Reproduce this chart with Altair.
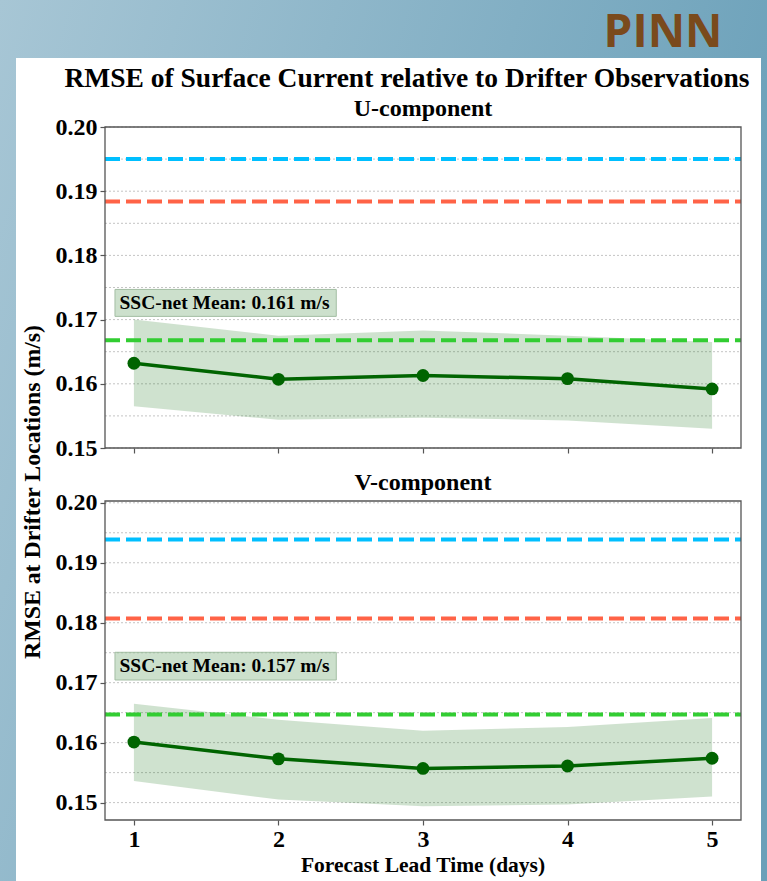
import altair as alt
import pandas as pd

# Forecast lead times (days)
lead_days = [1, 2, 3, 4, 5]

# U-component RMSE (m/s): mean and spread bounds
u_mean = [0.1632, 0.1607, 0.1613, 0.1608, 0.1592]
u_low = [0.1565, 0.1544, 0.1547, 0.1543, 0.1530]
u_high = [0.1700, 0.1675, 0.1683, 0.1675, 0.1665]

# V-component RMSE (m/s)
v_mean = [0.1601, 0.1573, 0.1557, 0.1561, 0.1574]
v_low = [0.1536, 0.1505, 0.1494, 0.1497, 0.1510]
v_high = [0.1665, 0.1638, 0.1620, 0.1626, 0.1641]

# Reference RMSE levels drawn as dashed lines
ref_colors = ["#00bfff", "#ff6347", "#32cd32"]
u_ref = [0.1950, 0.1884, 0.1668]
v_ref = [0.1939, 0.1807, 0.1647]

# Axis ticks and grid levels
y_ticks = [0.15, 0.16, 0.17, 0.18, 0.19, 0.20]
grid_levels = [0.15, 0.155, 0.16, 0.165, 0.17, 0.175, 0.18, 0.185, 0.19, 0.195, 0.20]

FONT = "Liberation Serif"
AXIS_GRAY = "#555555"
GREEN = "#006400"
X_DOMAIN = [0.8, 5.2]
X_RANGE = [105, 741]


def blank():
    return alt.Chart(alt.Data(values=[{}]))


def panel(mean, low, high, refs, y_domain, y_range, x_offset, show_labels, box_y, text_y):
    xs = alt.Scale(domain=X_DOMAIN, range=X_RANGE, nice=False, zero=False)
    ys = alt.Scale(domain=y_domain, range=y_range, nice=False, zero=False)
    x_axis = alt.Axis(
        orient="bottom", offset=x_offset, values=lead_days, labels=show_labels,
        format="d", title=None, grid=False, domain=False, zindex=2,
        tickSize=5, tickColor=AXIS_GRAY, tickWidth=1.2,
        labelFont=FONT, labelFontWeight="bold", labelFontSize=24,
        labelColor="black", labelPadding=2, labelFlush=False, labelOverlap=False,
    )
    y_axis = alt.Axis(
        orient="left", offset=-X_RANGE[0], values=y_ticks, format=".2f",
        title=None, grid=False, domain=False, zindex=2,
        tickSize=5, tickColor=AXIS_GRAY, tickWidth=1.2,
        labelFont=FONT, labelFontWeight="bold", labelFontSize=24,
        labelColor="black", labelPadding=3, labelFlush=False, labelOverlap=False,
    )

    def X(field):
        return alt.X(field, type="quantitative", scale=xs, axis=x_axis)

    def Y(field):
        return alt.Y(field, type="quantitative", scale=ys, axis=y_axis)

    def XD(v):
        return alt.XDatum(v, scale=xs, axis=x_axis)

    def YD(v):
        return alt.YDatum(v, scale=ys, axis=y_axis)

    df = pd.DataFrame({"day": lead_days, "mean": mean, "low": low, "high": high})
    ref_df = pd.DataFrame({"level": refs, "color": ref_colors})
    grid_df = pd.DataFrame({"level": grid_levels})
    note_df = pd.DataFrame({"label": [f"SSC-net Mean: {sum(mean) / len(mean):.3f} m/s"]})

    grid = alt.Chart(grid_df).mark_rule(
        color="#c4c4c4", strokeDash=[2, 2], strokeWidth=1
    ).encode(x=XD(X_DOMAIN[0]), x2=alt.X2Datum(X_DOMAIN[1]), y=Y("level"))

    band = alt.Chart(df).mark_area(color=GREEN, opacity=0.19).encode(
        x=X("day"), y=Y("low"), y2=alt.Y2("high")
    )

    ref_lines = alt.Chart(ref_df).mark_rule(strokeDash=[15, 6], strokeWidth=4).encode(
        x=XD(X_DOMAIN[0]), x2=alt.X2Datum(X_DOMAIN[1]), y=Y("level"),
        color=alt.Color("color:N", scale=None, legend=None),
    )

    line = alt.Chart(df).mark_line(color=GREEN, strokeWidth=3.5).encode(
        x=X("day"), y=Y("mean")
    )
    pts = alt.Chart(df).mark_circle(color=GREEN, size=165, opacity=1).encode(
        x=X("day"), y=Y("mean")
    )

    box = alt.Chart(note_df).mark_rect(
        fill=GREEN, fillOpacity=0.2, stroke="#a3bea3", strokeWidth=1
    ).encode(x=XD(0.869), x2=alt.X2Datum(2.40), y=YD(box_y[0]), y2=alt.Y2Datum(box_y[1]))

    note = alt.Chart(note_df).mark_text(
        align="left", baseline="middle", font=FONT, fontWeight="bold",
        fontSize=19.5, color="black"
    ).encode(x=XD(0.9), y=YD(text_y), text="label:N")

    frame = blank().mark_rect(fillOpacity=0, stroke=AXIS_GRAY, strokeWidth=1.3).encode(
        x=XD(X_DOMAIN[0]), x2=alt.X2Datum(X_DOMAIN[1]),
        y=YD(y_domain[0]), y2=alt.Y2Datum(y_domain[1]),
    )

    return alt.layer(grid, band, ref_lines, line, pts, box, note, frame)


upper = panel(u_mean, u_low, u_high, u_ref, [0.15, 0.20], [448, 127], -433, False,
              (0.1705, 0.1747), 0.1726)
lower = panel(v_mean, v_low, v_high, v_ref, [0.1471, 0.2003], [820, 501], -61, True,
              (0.17045, 0.17507), 0.17278)

# Slide background and white figure panel
backdrop = blank().mark_rect(
    fill=alt.Gradient(
        gradient="linear",
        stops=[alt.GradientStop(color="#a7c6d5", offset=0),
               alt.GradientStop(color="#6aa0b9", offset=1)],
        x1=0, y1=0, x2=1, y2=0.35,
    )
).encode(x=alt.value(0), x2=alt.value(767), y=alt.value(0), y2=alt.value(881))

sheet = blank().mark_rect(fill="white").encode(
    x=alt.value(16), x2=alt.value(761), y=alt.value(58), y2=alt.value(881)
)


def label(text, x, y, size, angle=0, baseline="alphabetic", font=FONT, color="black"):
    return blank().mark_text(
        text=text, font=font, fontWeight="bold", fontSize=size, color=color,
        align="center", baseline=baseline, angle=angle,
    ).encode(x=alt.value(x), y=alt.value(y))


texts = [
    label("PINN", 663, 47, 46, font="Open Sans", color="#7a4a1c"),
    label("RMSE of Surface Current relative to Drifter Observations", 407, 87, 27.5),
    label("U-component", 423, 116, 24),
    label("V-component", 423, 490, 24),
    label("RMSE at Drifter Locations (m/s)", 33, 492, 23.8, angle=270, baseline="middle"),
    label("Forecast Lead Time (days)", 423, 872, 21.5),
]

chart = alt.layer(backdrop, sheet, *texts, upper, lower).resolve_scale(
    x="independent", y="independent"
).properties(
    width=767, height=881, padding=0,
    autosize=alt.AutoSizeParams(type="none"),
).configure_view(stroke=None)

chart.save("out.html", embed_options={"renderer": "svg", "actions": False})
